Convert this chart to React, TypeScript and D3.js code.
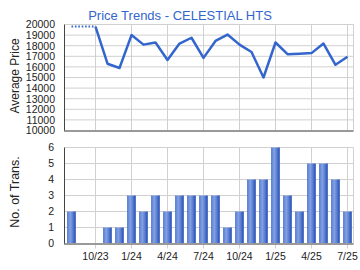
import React from "react";
import * as d3 from "d3";

const months = ["8/23","9/23","10/23","11/23","12/23","1/24","2/24","3/24","4/24","5/24","6/24","7/24","8/24","9/24","10/24","11/24","12/24","1/25","2/25","3/25","4/25","5/25","6/25","7/25"];
const prices: (number | null)[] = [19800, null, 19800, 16300, 15900, 19000, 18100, 18300, 16650, 18200, 18750, 16850, 18450, 19050, 18100, 17400, 15000, 18300, 17200, 17250, 17300, 18200, 16200, 16950];
const transactions = [2, 0, 0, 1, 1, 3, 2, 3, 2, 3, 3, 3, 3, 1, 2, 4, 4, 6, 3, 2, 5, 5, 4, 2];
const xTickLabels = ["10/23", "1/24", "4/24", "7/24", "10/24", "1/25", "4/25", "7/25"];
const priceTicks = [10000, 11000, 12000, 13000, 14000, 15000, 16000, 17000, 18000, 19000, 20000];
const transTicks = [0, 1, 2, 3, 4, 5, 6];
const title = "Price Trends - CELESTIAL HTS";

export default function App() {
  const W = 360, H = 270;
  const left = 64.5, right = 353.5;
  const x = d3.scaleLinear().domain([-7 / 12, 23.5]).range([left, right]);
  const yP = d3.scaleLinear().domain([10000, 20000]).range([130.5, 24.5]);
  const yT = d3.scaleLinear().domain([0, 6]).range([243.5, 147.5]);
  const tickIdx = xTickLabels.map((l) => months.indexOf(l));
  const blue = "#3366cc";
  const font = "'Liberation Sans', Arial, sans-serif";

  const firstSolid = 2;
  const solidPts = prices
    .map((p, i) => ({ p, i }))
    .filter((d) => d.p !== null && d.i >= firstSolid) as { p: number; i: number }[];
  const line = d3
    .line<{ p: number; i: number }>()
    .x((d) => x(d.i))
    .y((d) => yP(d.p));
  const dottedPts = [
    { p: prices[0] as number, i: 0 },
    { p: prices[2] as number, i: 2 },
  ];
  const barW = 8.6;

  return (
    <svg width={W} height={H} style={{ position: "absolute", left: 0, top: 0 }} fontFamily={font}>
      <defs>
        <linearGradient id="barGrad" x1="0" x2="1" y1="0" y2="0">
          <stop offset="0" stopColor="#2f58bd" />
          <stop offset="0.12" stopColor="#6588d8" />
          <stop offset="0.35" stopColor="#84a2e3" />
          <stop offset="0.65" stopColor="#5c7fd2" />
          <stop offset="0.9" stopColor="#3259bc" />
          <stop offset="1" stopColor="#244cb0" />
        </linearGradient>
      </defs>
      <rect width={W} height={H} fill="#fff" />
      <text x={180} y={20} textAnchor="middle" fontSize={13} fill={blue}>
        {title}
      </text>

      {priceTicks.map((t) => (
        <line key={"hp" + t} x1={left} x2={right} y1={yP(t)} y2={yP(t)} stroke="#d0d0d0" strokeWidth={1} />
      ))}
      {tickIdx.map((i) => (
        <line key={"vp" + i} x1={x(i)} x2={x(i)} y1={yP(20000)} y2={yP(10000)} stroke="#d0d0d0" strokeWidth={1} />
      ))}
      <line x1={right} x2={right} y1={yP(20000)} y2={yP(10000)} stroke="#d0d0d0" />
      {priceTicks.map((t) => (
        <text key={"lp" + t} x={55} y={yP(t) + 3.8} textAnchor="end" fontSize={10.5} fill="#222">
          {t}
        </text>
      ))}
      <text transform={`translate(19,76) rotate(-90)`} textAnchor="middle" fontSize={12} fill="#222">
        Average Price
      </text>
      <path d={line(dottedPts) || ""} fill="none" stroke={blue} strokeWidth={2} strokeDasharray="1.6,1.8" />
      <path d={line(solidPts) || ""} fill="none" stroke={blue} strokeWidth={2.5} strokeLinejoin="round" />
      <line x1={left} x2={left} y1={yP(20000)} y2={yP(10000) + 1} stroke="#444" strokeWidth={1} />
      <line x1={left} x2={right} y1={yP(10000) + 0.5} y2={yP(10000) + 0.5} stroke="#999" strokeWidth={2} />

      {transTicks.map((t) => (
        <line key={"ht" + t} x1={left} x2={right} y1={yT(t)} y2={yT(t)} stroke="#d0d0d0" />
      ))}
      {tickIdx.map((i) => (
        <line key={"vt" + i} x1={x(i)} x2={x(i)} y1={yT(6)} y2={yT(0) + 5} stroke="#d0d0d0" />
      ))}
      <line x1={right} x2={right} y1={yT(6)} y2={yT(0)} stroke="#d0d0d0" />
      {transactions.map((v, i) =>
        v > 0 ? (
          <rect key={"b" + i} x={x(i) - barW / 2} y={yT(v)} width={barW} height={yT(0) - yT(v)} fill="url(#barGrad)" />
        ) : null
      )}
      {transTicks.map((t) => (
        <text key={"lt" + t} x={54} y={yT(t) + 3.8} textAnchor="end" fontSize={10.5} fill="#222">
          {t}
        </text>
      ))}
      <text transform={`translate(19,192) rotate(-90)`} textAnchor="middle" fontSize={12.5} fill="#222">
        No. of Trans.
      </text>
      <line x1={left} x2={left} y1={yT(6)} y2={yT(0) + 1} stroke="#444" strokeWidth={1} />
      <line x1={left} x2={right} y1={yT(0) + 0.5} y2={yT(0) + 0.5} stroke="#999" strokeWidth={2} />
      {tickIdx.map((i, k) => (
        <text key={"xl" + i} x={x(i)} y={260} textAnchor="middle" fontSize={10.5} fill="#222">
          {xTickLabels[k]}
        </text>
      ))}
    </svg>
  );
}
